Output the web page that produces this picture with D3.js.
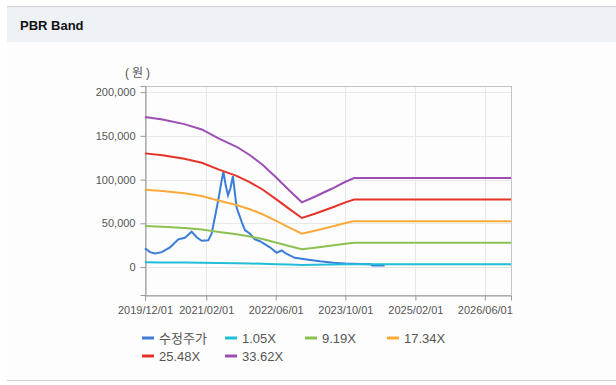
<!DOCTYPE html>
<html>
<head>
<meta charset="utf-8">
<script src="https://cdn.jsdelivr.net/npm/d3@7"></script>
<style>
  body { margin: 0; background: #fff; }
  svg { display: block; font-family: "Liberation Sans", Arial, "Noto Sans CJK KR", sans-serif; }
</style>
</head>
<body>
<svg id="chart" width="616" height="385"></svg>
<script>
// --- Datos ---
const priceDates = ["2019-12-01","2020-01-05","2020-02-09","2020-03-27","2020-05-24","2020-07-21","2020-09-05","2020-10-22","2020-11-26","2020-12-31","2021-02-15","2021-03-11","2021-04-03","2021-04-26","2021-05-20","2021-06-01","2021-06-15","2021-07-03","2021-07-20","2021-08-06","2021-09-01","2021-10-06","2021-10-29","2021-12-03","2022-01-07","2022-02-11","2022-04-22","2022-06-08","2022-07-13","2022-08-17","2022-10-13","2023-01-03","2023-04-06","2023-07-08","2023-09-28","2024-01-10","2024-03-25","2024-04-05","2024-07-01"];
const priceValues = [21500,17000,15600,17000,22500,31600,33500,40400,34000,30000,30500,38500,57500,76600,99400,109000,95000,82000,90000,104000,68000,52000,42300,38000,31500,29500,22500,16300,19000,14900,10500,8500,6500,4900,4000,3500,3300,1800,1800];

// BPS usado para las bandas
const bandDates = ["2019-12-01","2020-04-01","2020-09-01","2021-01-01","2021-05-01","2021-09-01","2021-12-01","2022-03-01","2022-06-01","2022-09-01","2022-12-01","2023-03-01","2023-07-01","2023-10-01","2023-12-01","2026-12-01"];
const bpsValues = [5100,5020,4860,4680,4370,4090,3810,3480,3060,2620,2200,2390,2670,2900,3025,3025];

const seriesNames = ["수정주가", "1.05X", "9.19X", "17.34X", "25.48X", "33.62X"];
const multiples = [null, 1.05, 9.19, 17.34, 25.48, 33.62];
const colors = ["#3b7dd8", "#22bdd6", "#8cc152", "#fbaa3a", "#e6332a", "#9b4fb3"];

const yTicks = [0, 50000, 100000, 150000, 200000];
const xTicks = ["2019-12-01","2021-02-01","2022-06-01","2023-10-01","2025-02-01","2026-06-01"];

// --- Escalas ---
const parse = d3.timeParse("%Y-%m-%d");
const plotLeft = 145, plotRight = 511, plotTop = 86, plotBottom = 295;

const x = d3.scaleTime()
    .domain([parse("2019-12-01"), parse("2026-12-01")])
    .range([plotLeft, plotRight]);

const y = d3.scaleLinear()
    .domain([-32000, 207000])
    .range([plotBottom, plotTop]);

const svg = d3.select("#chart");

// --- Encabezado ---
svg.append("rect").attr("x", 7).attr("y", 6).attr("width", 609).attr("height", 36).attr("fill", "#eef2f7");
svg.append("line").attr("x1", 7).attr("x2", 616).attr("y1", 6.5).attr("y2", 6.5).attr("stroke", "#cfd3d8");
svg.append("rect").attr("x", 7).attr("y", 42).attr("width", 609).attr("height", 338).attr("fill", "#fdfdfd");
svg.append("line").attr("x1", 7).attr("x2", 616).attr("y1", 380.5).attr("y2", 380.5).attr("stroke", "#cfd3d8");
svg.append("text")
    .attr("x", 20).attr("y", 30)
    .style("font-size", "13px").style("font-weight", "bold").attr("fill", "#111")
    .text("PBR Band");

// --- Rejilla ---
svg.append("g")
    .selectAll("line")
    .data(yTicks)
    .join("line")
    .attr("x1", plotLeft).attr("x2", plotRight)
    .attr("y1", d => Math.round(y(d)) + 0.5).attr("y2", d => Math.round(y(d)) + 0.5)
    .attr("stroke", "#e8e8e8");

svg.append("g")
    .selectAll("line")
    .data(xTicks.map(parse))
    .join("line")
    .attr("x1", d => Math.round(x(d)) + 0.5).attr("x2", d => Math.round(x(d)) + 0.5)
    .attr("y1", plotTop).attr("y2", plotBottom)
    .attr("stroke", "#e8e8e8");

svg.append("rect")
    .attr("x", plotLeft + 0.5).attr("y", plotTop + 0.5)
    .attr("width", plotRight - plotLeft).attr("height", plotBottom - plotTop)
    .attr("fill", "none").attr("stroke", "#c4c4c4");

// --- Ejes ---
const yAxis = svg.append("g")
    .attr("transform", `translate(${plotLeft + 0.5},0)`)
    .call(d3.axisLeft(y).tickValues(yTicks).tickFormat(d3.format(",")).tickSize(5).tickPadding(5));

const xAxis = svg.append("g")
    .attr("transform", `translate(0,${plotBottom + 0.5})`)
    .call(d3.axisBottom(x).tickValues(xTicks.map(parse)).tickFormat(d3.timeFormat("%Y/%m/%d")).tickSize(5).tickPadding(6));

[yAxis, xAxis].forEach(g => {
    g.select(".domain").attr("stroke", "#999");
    g.selectAll(".tick line").attr("stroke", "#999");
    g.selectAll(".tick text").attr("fill", "#555").style("font-size", "11px");
    g.attr("font-family", null);
});

svg.append("text")
    .attr("x", 125).attr("y", 77)
    .style("font-size", "12px").style("letter-spacing", "3px").attr("fill", "#555")
    .text("(원)");

// --- Líneas ---
const line = d3.line()
    .x(d => x(d.date))
    .y(d => y(d.value));

seriesNames.forEach((name, i) => {
    let points;
    if (multiples[i] === null) {
        points = priceDates.map((d, j) => ({date: parse(d), value: priceValues[j]}));
    } else {
        points = bandDates.map((d, j) => ({date: parse(d), value: bpsValues[j] * multiples[i]}));
    }
    svg.append("path")
        .datum(points)
        .attr("d", line)
        .attr("fill", "none")
        .attr("stroke", colors[i])
        .attr("stroke-width", 2);
});

// --- Leyenda ---
const legendX = [142, 225, 305, 387];
const legend = svg.append("g")
    .selectAll("g")
    .data(seriesNames)
    .join("g")
    .attr("transform", (d, i) => `translate(${legendX[i % 4]},${i < 4 ? 338 : 356})`);

legend.append("line")
    .attr("x1", 0).attr("x2", 12)
    .attr("stroke", (d, i) => colors[i])
    .attr("stroke-width", 3);

legend.append("text")
    .attr("x", 17).attr("y", 0).attr("dy", "0.36em")
    .style("font-size", "13px").attr("fill", "#555")
    .text(d => d);
</script>
</body>
</html>
